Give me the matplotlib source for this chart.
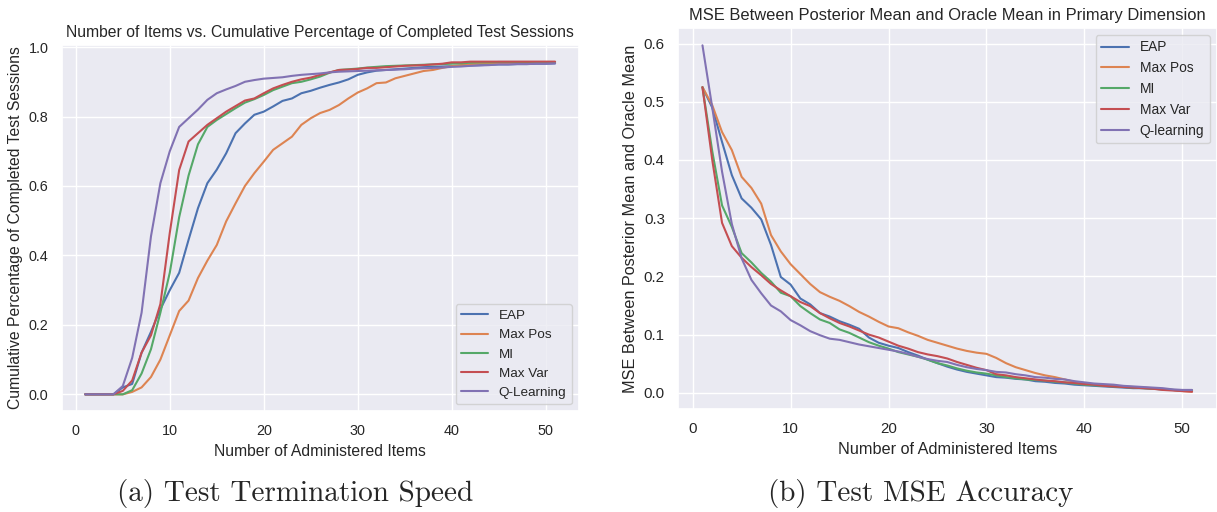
import numpy as np
import matplotlib
matplotlib.use("Agg")
import matplotlib.pyplot as plt
import seaborn as sns

# x axis: number of administered items
items = np.arange(1, 52)

# (a) cumulative share of finished test sessions
term_eap = [0, 0, 0, 0, 0.02, 0.03, 0.12, 0.18, 0.245, 0.30,
            0.35, 0.445, 0.536, 0.608, 0.647, 0.694, 0.752, 0.78, 0.805, 0.814,
            0.829, 0.845, 0.852, 0.867, 0.874, 0.883, 0.891, 0.898, 0.907, 0.92,
            0.927, 0.932, 0.934, 0.936, 0.938, 0.94, 0.942, 0.943, 0.944, 0.945,
            0.946, 0.947, 0.948, 0.949, 0.95, 0.95, 0.951, 0.951, 0.952, 0.952, 0.953]
term_maxpos = [0, 0, 0, 0, 0, 0.007, 0.02, 0.05, 0.10, 0.17,
               0.24, 0.27, 0.335, 0.385, 0.43, 0.498, 0.55, 0.60, 0.637, 0.67,
               0.704, 0.723, 0.742, 0.776, 0.795, 0.81, 0.819, 0.833, 0.852, 0.869,
               0.881, 0.896, 0.898, 0.91, 0.917, 0.924, 0.931, 0.934, 0.94, 0.945,
               0.948, 0.951, 0.953, 0.953, 0.954, 0.954, 0.955, 0.955, 0.955, 0.955, 0.955]
term_mi = [0, 0, 0, 0, 0, 0.012, 0.06, 0.13, 0.235, 0.35,
           0.51, 0.63, 0.72, 0.77, 0.79, 0.807, 0.824, 0.84, 0.85, 0.862,
           0.876, 0.886, 0.896, 0.90, 0.907, 0.915, 0.926, 0.934, 0.936, 0.938,
           0.941, 0.943, 0.945, 0.946, 0.947, 0.948, 0.949, 0.95, 0.951, 0.952,
           0.953, 0.955, 0.956, 0.956, 0.957, 0.957, 0.957, 0.957, 0.957, 0.957, 0.957]
term_maxvar = [0, 0, 0, 0, 0.01, 0.04, 0.12, 0.17, 0.26, 0.465,
               0.646, 0.728, 0.752, 0.776, 0.795, 0.814, 0.83, 0.846, 0.852, 0.867,
               0.881, 0.891, 0.90, 0.907, 0.912, 0.92, 0.927, 0.934, 0.935, 0.937,
               0.94, 0.94, 0.942, 0.944, 0.946, 0.947, 0.948, 0.95, 0.952, 0.956,
               0.956, 0.958, 0.958, 0.958, 0.958, 0.958, 0.958, 0.958, 0.958, 0.958, 0.958]
term_qlearn = [0, 0, 0, 0, 0.024, 0.105, 0.235, 0.455, 0.608, 0.70,
               0.77, 0.795, 0.82, 0.848, 0.867, 0.878, 0.888, 0.90, 0.905, 0.909,
               0.911, 0.913, 0.917, 0.92, 0.922, 0.924, 0.927, 0.929, 0.93, 0.931,
               0.932, 0.933, 0.934, 0.935, 0.936, 0.938, 0.939, 0.94, 0.941, 0.943,
               0.944, 0.946, 0.947, 0.948, 0.95, 0.95, 0.951, 0.951, 0.952, 0.952, 0.953]

# (b) MSE between posterior mean and oracle mean
mse_eap = [0.525, 0.49, 0.431, 0.374, 0.334, 0.318, 0.298, 0.254, 0.199, 0.186,
           0.162, 0.152, 0.137, 0.131, 0.123, 0.117, 0.11, 0.095, 0.086, 0.081,
           0.077, 0.07, 0.064, 0.057, 0.051, 0.045, 0.04, 0.036, 0.033, 0.03,
           0.027, 0.026, 0.024, 0.023, 0.02, 0.019, 0.017, 0.016, 0.014, 0.013,
           0.012, 0.011, 0.01, 0.009, 0.008, 0.008, 0.007, 0.006, 0.005, 0.004, 0.004]
mse_maxpos = [0.525, 0.494, 0.448, 0.417, 0.371, 0.352, 0.325, 0.271, 0.243, 0.221,
              0.204, 0.187, 0.173, 0.165, 0.158, 0.149, 0.139, 0.131, 0.122, 0.114,
              0.111, 0.104, 0.098, 0.091, 0.086, 0.081, 0.076, 0.072, 0.069, 0.067,
              0.06, 0.051, 0.044, 0.039, 0.034, 0.03, 0.027, 0.023, 0.019, 0.016,
              0.014, 0.013, 0.012, 0.011, 0.01, 0.009, 0.008, 0.006, 0.005, 0.003, 0.002]
mse_mi = [0.525, 0.415, 0.322, 0.285, 0.24, 0.224, 0.206, 0.191, 0.172, 0.166,
          0.149, 0.137, 0.126, 0.12, 0.109, 0.103, 0.095, 0.087, 0.081, 0.076,
          0.07, 0.066, 0.062, 0.057, 0.051, 0.047, 0.042, 0.038, 0.035, 0.033,
          0.03, 0.027, 0.025, 0.023, 0.022, 0.021, 0.019, 0.018, 0.016, 0.014,
          0.013, 0.012, 0.011, 0.01, 0.009, 0.008, 0.007, 0.006, 0.005, 0.004, 0.004]
mse_maxvar = [0.525, 0.40, 0.292, 0.252, 0.232, 0.216, 0.202, 0.187, 0.176, 0.166,
              0.156, 0.149, 0.137, 0.128, 0.12, 0.114, 0.107, 0.1, 0.095, 0.088,
              0.081, 0.076, 0.07, 0.066, 0.063, 0.059, 0.053, 0.048, 0.043, 0.039,
              0.032, 0.03, 0.027, 0.025, 0.023, 0.021, 0.02, 0.018, 0.017, 0.015,
              0.014, 0.012, 0.011, 0.01, 0.009, 0.008, 0.007, 0.005, 0.004, 0.003, 0.002]
mse_qlearn = [0.597, 0.49, 0.38, 0.29, 0.231, 0.194, 0.171, 0.15, 0.14, 0.125,
              0.116, 0.106, 0.099, 0.093, 0.091, 0.087, 0.083, 0.08, 0.077, 0.074,
              0.071, 0.067, 0.062, 0.058, 0.055, 0.053, 0.048, 0.044, 0.041, 0.039,
              0.036, 0.035, 0.032, 0.03, 0.027, 0.026, 0.024, 0.023, 0.02, 0.018,
              0.016, 0.015, 0.014, 0.012, 0.011, 0.01, 0.009, 0.008, 0.006, 0.005, 0.005]

term_labels = ["EAP", "Max Pos", "MI", "Max Var", "Q-Learning"]
mse_labels = ["EAP", "Max Pos", "MI", "Max Var", "Q-learning"]

sns.set_theme(style="darkgrid")
plt.rcParams["font.family"] = ["Liberation Sans", "DejaVu Sans"]

fig = plt.figure(figsize=(12.17, 5.12), dpi=100)
ax1 = fig.add_axes([0.0507, 0.1973, 0.4247, 0.7148])
ax2 = fig.add_axes([0.5571, 0.2012, 0.4425, 0.7441])

# left panel: termination speed
for ys, lab in zip([term_eap, term_maxpos, term_mi, term_maxvar, term_qlearn], term_labels):
    ax1.plot(items, ys, label=lab, linewidth=1.5)
ax1.set_title("Number of Items vs. Cumulative Percentage of Completed Test Sessions", fontsize=11.3)
ax1.set_xlabel("Number of Administered Items", fontsize=11.3)
ax1.set_ylabel("Cumulative Percentage of Completed Test Sessions", fontsize=11.3)
ax1.tick_params(labelsize=10.4)
ax1.legend(loc="lower right", fontsize=9.7)

# right panel: MSE accuracy
for ys, lab in zip([mse_eap, mse_maxpos, mse_mi, mse_maxvar, mse_qlearn], mse_labels):
    ax2.plot(items, ys, label=lab, linewidth=1.5)
ax2.set_title("MSE Between Posterior Mean and Oracle Mean in Primary Dimension", fontsize=11.85)
ax2.set_xlabel("Number of Administered Items", fontsize=11.7)
ax2.set_ylabel("MSE Between Posterior Mean and Oracle Mean", fontsize=11.7)
ax2.tick_params(labelsize=10.8)
ax2.legend(loc="upper right", fontsize=9.9)

# subfigure captions (LaTeX style)
fig.text(295 / 1217, 1 - 501 / 512, "(a) Test Termination Speed",
         ha="center", va="baseline", fontsize=21, family="cmr10")
fig.text(921 / 1217, 1 - 501 / 512, "(b) Test MSE Accuracy",
         ha="center", va="baseline", fontsize=21, family="cmr10")

fig.savefig("out.png", dpi=100, facecolor="white")
